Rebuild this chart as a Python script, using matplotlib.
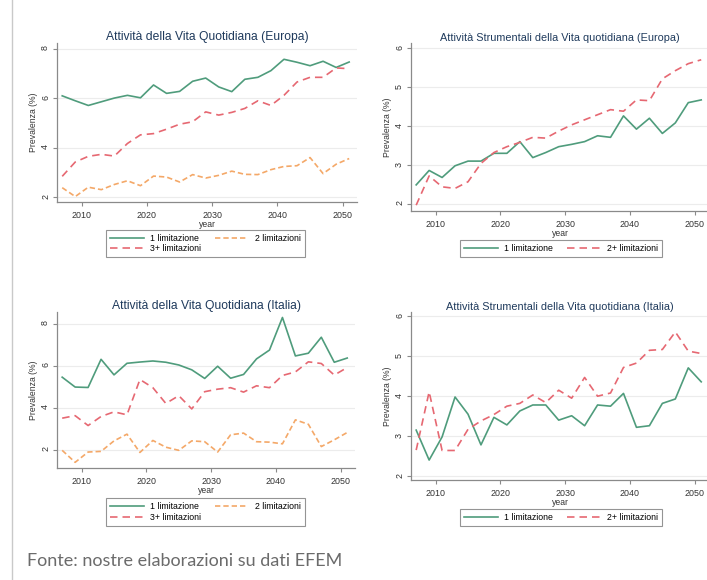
import matplotlib
matplotlib.use("Agg")
import matplotlib.pyplot as plt
from matplotlib.lines import Line2D

# ---- data -------------------------------------------------------------
years = list(range(2007, 2052, 2))

# Attività della Vita Quotidiana (Europa)
eu_adl_1 = [6.10, 5.90, 5.71, 5.86, 6.01, 6.12, 6.02, 6.54, 6.20, 6.28, 6.69, 6.82,
            6.46, 6.27, 6.77, 6.85, 7.12, 7.58, 7.46, 7.32, 7.50, 7.25, 7.47]
eu_adl_2 = [2.38, 2.02, 2.40, 2.30, 2.51, 2.66, 2.46, 2.85, 2.81, 2.61, 2.91, 2.77,
            2.88, 3.05, 2.92, 2.91, 3.11, 3.24, 3.27, 3.60, 2.95, 3.33, 3.56]
eu_adl_3 = [2.84, 3.42, 3.65, 3.73, 3.66, 4.17, 4.52, 4.57, 4.75, 4.95, 5.05, 5.45,
            5.32, 5.43, 5.59, 5.90, 5.71, 6.12, 6.66, 6.85, 6.85, 7.23, 7.20]

# Attività Strumentali della Vita quotidiana (Europa)
eu_iadl_1 = [2.49, 2.86, 2.68, 2.98, 3.10, 3.10, 3.30, 3.30, 3.60, 3.19, 3.32, 3.47,
             3.53, 3.60, 3.75, 3.71, 4.26, 3.92, 4.20, 3.81, 4.08, 4.60, 4.67]
eu_iadl_2 = [1.97, 2.72, 2.44, 2.40, 2.57, 3.04, 3.32, 3.47, 3.58, 3.71, 3.69, 3.87,
             4.03, 4.16, 4.29, 4.42, 4.38, 4.67, 4.65, 5.21, 5.42, 5.60, 5.70]

# Attività della Vita Quotidiana (Italia)
it_adl_1 = [5.45, 4.98, 4.96, 6.30, 5.56, 6.11, 6.17, 6.22, 6.16, 6.03, 5.80, 5.39,
            5.97, 5.40, 5.58, 6.32, 6.74, 8.29, 6.46, 6.59, 7.35, 6.16, 6.36]
it_adl_2 = [1.97, 1.40, 1.89, 1.92, 2.42, 2.74, 1.87, 2.44, 2.12, 1.97, 2.42, 2.38,
            1.89, 2.71, 2.79, 2.38, 2.36, 2.28, 3.42, 3.21, 2.15, 2.47, 2.82]
it_adl_3 = [3.50, 3.62, 3.15, 3.58, 3.80, 3.66, 5.34, 4.95, 4.20, 4.57, 3.94, 4.76,
            4.88, 4.95, 4.74, 5.04, 4.95, 5.53, 5.70, 6.18, 6.10, 5.55, 5.91]

# Attività Strumentali della Vita quotidiana (Italia)
it_iadl_1 = [3.15, 2.40, 2.98, 3.98, 3.55, 2.78, 3.47, 3.28, 3.63, 3.78, 3.78, 3.40,
             3.51, 3.26, 3.78, 3.75, 4.07, 3.22, 3.26, 3.82, 3.93, 4.71, 4.36]
it_iadl_2 = [2.65, 4.11, 2.64, 2.64, 3.17, 3.38, 3.54, 3.75, 3.82, 4.03, 3.84, 4.15,
             3.95, 4.47, 4.00, 4.08, 4.72, 4.83, 5.15, 5.17, 5.61, 5.13, 5.07]

titles = ["Attività della Vita Quotidiana (Europa)",
          "Attività Strumentali della Vita quotidiana (Europa)",
          "Attività della Vita Quotidiana (Italia)",
          "Attività Strumentali della Vita quotidiana (Italia)"]
lbl_1 = "1 limitazione"
lbl_2 = "2 limitazioni"
lbl_3 = "3+ limitazioni"
lbl_2p = "2+ limitazioni"
source = "Fonte: nostre elaborazioni su dati EFEM"

# ---- style ------------------------------------------------------------
W, H = 707, 580
GREEN = "#4f9c7c"
ORANGE = "#f4a868"
RED = "#e66872"
NAVY = "#1f3a5c"
AXC = "#8a8a8a"
FONT = "Liberation Sans"

s_green = dict(color=GREEN, lw=1.2, ls="-")
s_orange = dict(color=ORANGE, lw=1.2, ls=(0, (3.2, 1.8)))
s_red = dict(color=RED, lw=1.2, ls=(0, (4.5, 3.0)))

fig = plt.figure(figsize=(W / 100, H / 100), dpi=100)
fig.patch.set_facecolor("white")


def px_axes(left, top, right, bottom):
    return fig.add_axes([left / W, 1 - bottom / H, (right - left) / W, (bottom - top) / H])


def style(ax, title, title_size, ylim, yticks):
    ax.set_xlim(2006.2, 2052.2)
    ax.set_ylim(*ylim)
    ax.set_xticks([2010, 2020, 2030, 2040, 2050])
    ax.set_yticks(yticks)
    ax.set_yticklabels([str(t) for t in yticks])
    for s in ("top", "right"):
        ax.spines[s].set_visible(False)
    for s in ("left", "bottom"):
        ax.spines[s].set_color(AXC)
        ax.spines[s].set_linewidth(0.9)
    ax.grid(axis="y", color="#ececec", lw=0.8)
    ax.set_axisbelow(True)
    ax.tick_params(axis="both", colors=AXC, length=3, width=0.8,
                   labelcolor="#333333", labelsize=6.4)
    ax.tick_params(axis="y", labelrotation=90, pad=2)
    for t in ax.get_xticklabels() + ax.get_yticklabels():
        t.set_fontfamily(FONT)
    ax.set_title(title, fontsize=title_size, color=NAVY, family=FONT, pad=1.5)
    ax.set_xlabel("year", fontsize=6.2, family=FONT, color="#333333", labelpad=0)
    ax.set_ylabel("Prevalenza (%)", fontsize=6.2, family=FONT, color="#333333", labelpad=2)


def legend(ax, handles, labels, cx, cy):
    leg = ax.legend(handles, labels, loc="center", ncol=2,
                    bbox_to_anchor=(cx / W, 1 - cy / H), bbox_transform=fig.transFigure,
                    frameon=True, fancybox=False, handlelength=3.8, handletextpad=0.8,
                    columnspacing=1.5, borderpad=0.45, labelspacing=0.2,
                    prop={"family": FONT, "size": 6.3})
    leg.get_frame().set_edgecolor("#7a7a7a")
    leg.get_frame().set_linewidth(0.8)
    return leg


# top-left
ax1 = px_axes(57, 43, 357, 202)
g, = ax1.plot(years, eu_adl_1, **s_green)
o, = ax1.plot(years, eu_adl_2, **s_orange)
r, = ax1.plot(years, eu_adl_3, **s_red)
style(ax1, titles[0], 8.7, (1.80, 8.24), [2, 4, 6, 8])
legend(ax1, [g, r, o], [lbl_1, lbl_3, lbl_2], 205.5, 243.5)

# top-right (runs past the right edge of the canvas)
ax2 = px_axes(411, 43, 709, 211)
g, = ax2.plot(years, eu_iadl_1, **s_green)
r, = ax2.plot(years, eu_iadl_2, **s_red)
style(ax2, titles[1], 7.8, (1.82, 6.13), [2, 3, 4, 5, 6])
legend(ax2, [g, r], [lbl_1, lbl_2p], 561, 248.5)

# bottom-left
ax3 = px_axes(57, 312, 355, 468)
g, = ax3.plot(years, it_adl_1, **s_green)
o, = ax3.plot(years, it_adl_2, **s_orange)
r, = ax3.plot(years, it_adl_3, **s_red)
style(ax3, titles[2], 8.7, (1.13, 8.55), [2, 4, 6, 8])
legend(ax3, [g, r, o], [lbl_1, lbl_3, lbl_2], 205.5, 512)

# bottom-right
ax4 = px_axes(411, 312, 709, 480)
g, = ax4.plot(years, it_iadl_1, **s_green)
r, = ax4.plot(years, it_iadl_2, **s_red)
style(ax4, titles[3], 7.8, (1.90, 6.11), [2, 3, 4, 5, 6])
legend(ax4, [g, r], [lbl_1, lbl_2p], 561, 517.5)

# page margin rule and source note
fig.add_artist(Line2D([12 / W, 12 / W], [0, 1], transform=fig.transFigure,
                      color="#c9c9c9", lw=1.0))
fig.text(27 / W, 1 - 561 / H, source, fontsize=13.0, family="Lato",
         color="#6b6b6b", ha="left", va="center")

fig.savefig("out.png", dpi=100, facecolor="white")
